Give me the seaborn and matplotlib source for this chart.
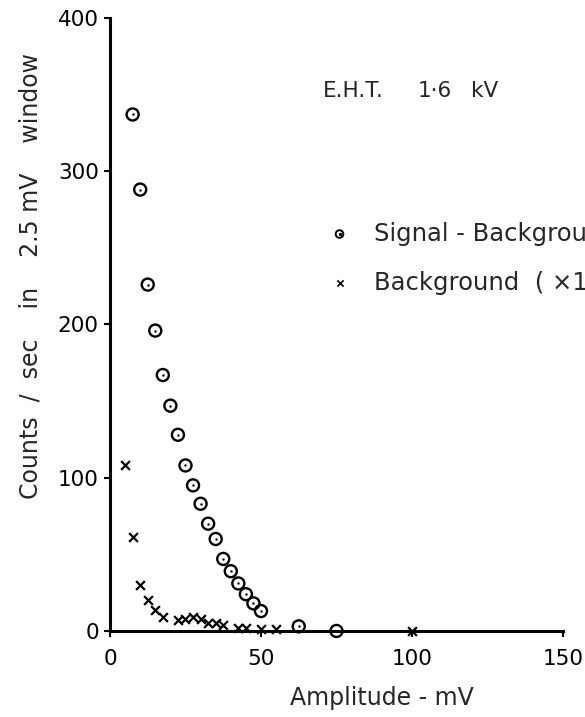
import matplotlib
matplotlib.use("Agg")
import matplotlib.pyplot as plt
import seaborn as sns
import pandas as pd

# Signal - Background (circles)
sig_x = [7.5, 10, 12.5, 15, 17.5, 20, 22.5, 25, 27.5, 30, 32.5, 35, 37.5, 40,
         42.5, 45, 47.5, 50, 62.5, 75]
sig_y = [337, 288, 226, 196, 167, 147, 128, 108, 95, 83, 70, 60, 47, 39,
         31, 24, 18, 13, 3, 0]

# Background (x10) (crosses)
bkg_x = [5, 7.5, 10, 12.5, 15, 17.5, 22.5, 25, 27.5, 30, 32.5, 35, 37.5,
         42.5, 45, 50, 55, 100]
bkg_y = [108, 61, 30, 20, 14, 9, 7, 8, 9, 8, 5, 5, 4, 2, 2, 1, 1, 0]

x_ticks = [0, 50, 100, 150]
y_ticks = [0, 100, 200, 300, 400]

sig = pd.DataFrame({"x": sig_x, "y": sig_y})
bkg = pd.DataFrame({"x": bkg_x, "y": bkg_y})

sns.set_style("ticks")
plt.rcParams["font.family"] = ["DejaVu Sans"]

fig = plt.figure(figsize=(5.85, 7.17), dpi=100)
ax = fig.add_axes([0.188, 0.12, 0.7744, 0.855])

sns.scatterplot(data=sig, x="x", y="y", ax=ax, marker="o", s=75,
                facecolor="none", edgecolor="black", linewidth=1.7,
                clip_on=False, zorder=3)
sns.scatterplot(data=sig, x="x", y="y", ax=ax, marker="o", s=3,
                color="black", linewidth=0, clip_on=False, zorder=4)
sns.scatterplot(data=bkg, x="x", y="y", ax=ax, marker="x", s=40,
                color="black", linewidth=1.6, clip_on=False, zorder=3)

ax.set_xlim(0, 150)
ax.set_ylim(0, 400)
ax.set_xticks(x_ticks)
ax.set_yticks(y_ticks)
ax.set_xticklabels([str(t) for t in x_ticks])
ax.set_yticklabels([str(t) for t in y_ticks])
ax.tick_params(axis="both", direction="out", length=4, width=1.5,
               colors="black", labelsize=15.5)
ax.tick_params(axis="x", pad=9)
ax.tick_params(axis="y", pad=4)
sns.despine(ax=ax)
for s in ["left", "bottom"]:
    ax.spines[s].set_linewidth(2.2)
    ax.spines[s].set_color("black")

ax.set_xlabel("")
ax.set_ylabel("")
fig.text(0.653, 0.027, "Amplitude - mV", fontsize=17, ha="center", va="center")
fig.text(0.052, 0.615, "Counts  /  sec    in    2.5 mV    window", fontsize=17,
         ha="center", va="center", rotation=90)

ax.text(70.5, 352, "E.H.T.", fontsize=15.5, ha="left", va="center")
ax.text(102, 352, "1·6", fontsize=15.5, ha="left", va="center")
ax.text(119.5, 352, "kV", fontsize=15.5, ha="left", va="center")

# legend drawn as text near the right edge (partly cut off, as in the original)
ax.scatter([76], [259], marker="o", s=30, facecolor="none",
           edgecolor="black", linewidth=1.4)
ax.scatter([76], [259], marker="o", s=2, color="black")
ax.scatter([76], [227], marker="x", s=20, color="black", linewidth=1.2)
ax.text(87.5, 259, "Signal - Background", fontsize=17.5, ha="left",
        va="center", clip_on=False)
ax.text(87.5, 227, "Background  ( ×10 )", fontsize=17.5, ha="left",
        va="center", clip_on=False)

fig.savefig("out.png", dpi=100)
